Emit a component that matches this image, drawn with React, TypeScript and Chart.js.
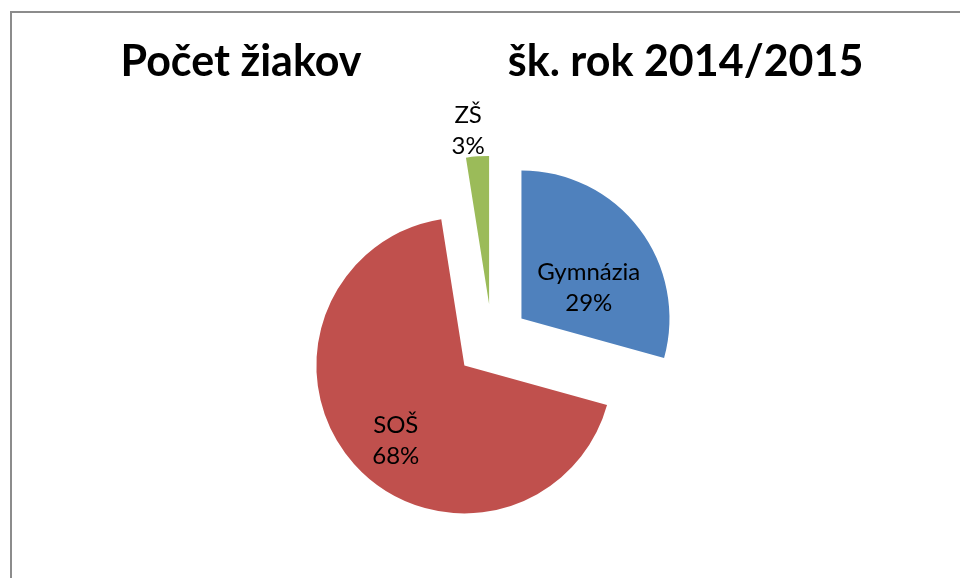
import React, { useEffect, useRef } from "react";
import { Chart, registerables } from "chart.js";

Chart.register(...registerables);

const categories = ["Gymnázia", "SOŠ", "ZŠ"];
const values = [29.3, 68.2, 2.5];
const colors = ["#4F81BD", "#C0504D", "#9BBB59"];
const titleLeft = "Počet žiakov";
const titleRight = "šk. rok 2014/2015";

// label placement relative to each exploded slice (fraction of radius, angular shift in degrees)
const labelPlacement = [
  { r: 0.5, da: 12.75 },
  { r: 0.69, da: -6 },
  { r: 1.18, da: -2.4 },
];

const OFFSET = 37; // explode distance in px
const FONT = "Lato, 'Open Sans', sans-serif";

// Draw the library's arc elements, each translated outward along its mid angle (exploded pie)
const explode = {
  id: "explode",
  beforeDatasetDraw(chart: any, args: any) {
    const meta = args.meta;
    const ctx = chart.ctx;
    meta.data.forEach((arc: any) => {
      const { startAngle, endAngle } = arc.getProps(["startAngle", "endAngle"], true);
      const mid = (startAngle + endAngle) / 2;
      ctx.save();
      ctx.translate(Math.cos(mid) * OFFSET, Math.sin(mid) * OFFSET);
      arc.draw(ctx);
      ctx.restore();
    });
    return false;
  },
};

const sliceLabels = {
  id: "sliceLabels",
  afterDatasetsDraw(chart: any) {
    const meta = chart.getDatasetMeta(0);
    const ctx = chart.ctx;
    const data = chart.data.datasets[0].data as number[];
    const total = data.reduce((a, b) => a + b, 0);
    ctx.save();
    ctx.fillStyle = "#000";
    ctx.font = `24px ${FONT}`;
    ctx.textAlign = "center";
    ctx.textBaseline = "middle";
    meta.data.forEach((arc: any, i: number) => {
      const { x, y, startAngle, endAngle, outerRadius } = arc.getProps(
        ["x", "y", "startAngle", "endAngle", "outerRadius"],
        true
      );
      const mid = (startAngle + endAngle) / 2;
      const ax = x + Math.cos(mid) * OFFSET;
      const ay = y + Math.sin(mid) * OFFSET;
      const p = labelPlacement[i];
      const ang = mid + (p.da * Math.PI) / 180;
      const lx = ax + Math.cos(ang) * outerRadius * p.r;
      const ly = ay + Math.sin(ang) * outerRadius * p.r;
      const pct = Math.round((data[i] / total) * 100) + "%";
      ctx.fillText(chart.data.labels[i], lx, ly - 15.5);
      ctx.fillText(pct, lx, ly + 15.5);
    });
    ctx.restore();
  },
};

export default function App() {
  const ref = useRef<HTMLCanvasElement>(null);
  useEffect(() => {
    if (!ref.current) return;
    const chart = new Chart(ref.current, {
      type: "pie",
      data: {
        labels: categories,
        datasets: [
          {
            data: values,
            backgroundColor: colors,
            borderWidth: 0,
            offset: 0,
            hoverOffset: 0,
          },
        ],
      },
      options: {
        animation: false,
        responsive: false,
        radius: 148,
        layout: { padding: { left: 24, right: 0, top: 0, bottom: 26 } },
        plugins: {
          legend: { display: false },
          tooltip: { enabled: false },
          title: {
            display: true,
            text: titleLeft + "              " + titleRight,
            color: "#000",
            font: { family: FONT, size: 43, weight: "bold", lineHeight: 1.2 },
            padding: { top: 36, bottom: 0 },
          },
        },
      },
      plugins: [explode, sliceLabels],
    });
    return () => chart.destroy();
  }, []);
  return (
    <div style={{ position: "fixed", left: 0, top: 0, width: 960, height: 578, overflow: "hidden", background: "#fff" }}>
      <div
        style={{
          position: "absolute",
          left: 10,
          top: 11,
          width: 1000,
          height: 700,
          borderLeft: "2px solid #8c8c8c",
          borderTop: "2px solid #8c8c8c",
        }}
      />
      <canvas ref={ref} width={960} height={620} style={{ position: "absolute", left: 0, top: 0 }} />
    </div>
  );
}
